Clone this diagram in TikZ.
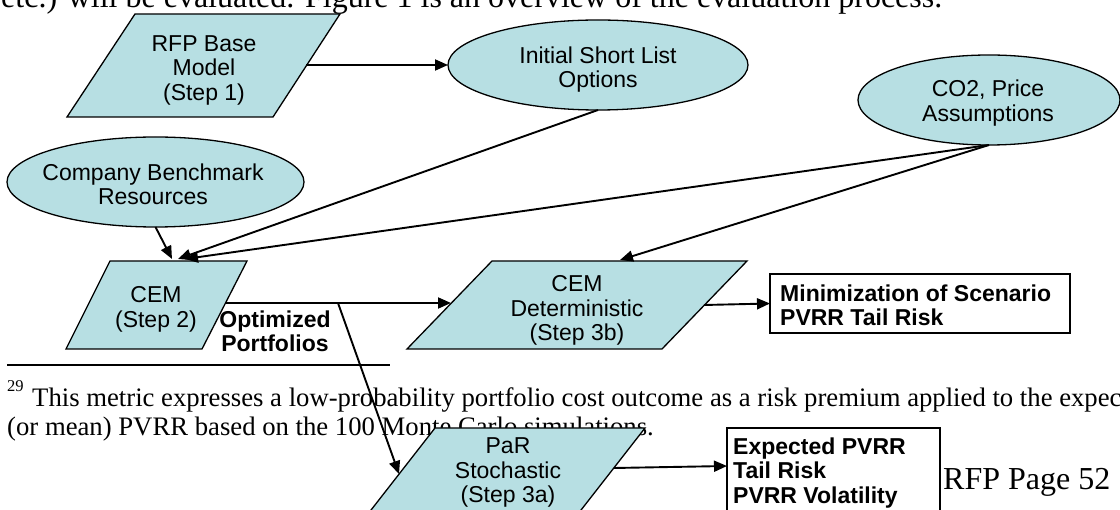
\documentclass[tikz,border=0pt]{standalone}
\usepackage{fontspec}
\setmainfont{Liberation Serif}
\newfontfamily\arialf{Liberation Sans}
\usetikzlibrary{arrows.meta,shapes.geometric}
\definecolor{shapefill}{RGB}{183,223,227}
\tikzset{
  shapeline/.style={draw=black, line width=1.3pt, fill=shapefill, line join=miter},
  conn/.style={draw=black, line width=1.9pt, -{Triangle[length=13pt,width=11pt]}},
  lbl/.style={font=\arialf\fontsize{23}{24.5}\selectfont, align=center, inner sep=0pt},
  blbl/.style={font=\arialf\bfseries\fontsize{23}{24.5}\selectfont, inner sep=0pt},
  ell/.style={ellipse, shapeline, inner sep=0pt, outer sep=0pt},
  resbox/.style={draw=black, line width=1.4pt, fill=white, inner sep=0pt, outer sep=0pt},
  bodytxt/.style={font=\fontsize{32}{36}\selectfont, inner sep=0pt, anchor=base west},
  foottxt/.style={font=\fontsize{26.7}{29}\selectfont, inner sep=0pt, anchor=base west},
  marktxt/.style={font=\fontsize{16.5}{18}\selectfont, inner sep=0pt, anchor=base west},
  pagetxt/.style={font=\fontsize{32}{36}\selectfont, inner sep=0pt, anchor=base west},
}
\begin{document}
\begin{tikzpicture}[x=1pt,y=-1pt]
\useasboundingbox (0,0) rectangle (1120,510);
\clip (0,0) rectangle (1120,510);
\fill[white] (0,0) rectangle (1120,510);

% ---- page text behind the figure ----
\node[bodytxt] (bodyline) at (1,8) {etc.) will be evaluated. Figure 1 is an overview of the evaluation process.};
\draw[line width=1.8pt] (7,365) -- (390,365);
\node[marktxt] (fnmark) at (7,392) {29};
\node[foottxt] (fnone) at (32,407) {This metric expresses a low-probability portfolio cost outcome as a risk premium applied to the expected};
\node[foottxt] (fntwo) at (7,436) {(or mean) PVRR based on the 100 Monte Carlo simulations.};
\node[pagetxt] (pagenum) at (943,490) {RFP Page 52};

% ---- shapes ----
\draw[shapeline] (135,14) -- (340,14) -- (273,117) -- (67,117) -- cycle;
\node[lbl] (rfp) at (204,70) {RFP Base\\Model\\(Step 1)};
\coordinate (rfpE) at (306,65);

\node[ell, minimum width=300pt, minimum height=90pt] (init) at (598,65) {};
\node[lbl] (inittxt) at (598,69.5) {Initial Short List\\Options};

\node[ell, minimum width=262pt, minimum height=90pt] (co2) at (989,100) {};
\node[lbl] (co2txt) at (988,103) {CO2, Price\\Assumptions};

\node[ell, minimum width=297pt, minimum height=90pt] (comp) at (155.5,182) {};
\node[lbl] (comptxt) at (153,184.5) {Company Benchmark\\Resources};

\draw[shapeline] (110,261) -- (247,261) -- (202,349) -- (66,349) -- cycle;
\node[lbl] (cem) at (156,309.5) {CEM\\(Step 2)};
\coordinate (cemInA) at (172,259);
\coordinate (cemInB) at (178,259);
\coordinate (cemInC) at (185,259);
\coordinate (cemE) at (226,303);
\coordinate (branch) at (338,303);

\node[blbl, align=center] (optport) at (275,331.5) {Optimized\\Portfolios};

\draw[shapeline] (492,261) -- (747,261) -- (662,349) -- (407,349) -- cycle;
\node[lbl] (det) at (577,310.5) {CEM\\Deterministic\\(Step 3b)};
\coordinate (detIn) at (620,260);
\coordinate (detW) at (451,303);
\coordinate (detE) at (704,305);

\draw[shapeline] (435,428) -- (645,428) -- (579.5,512) -- (369.5,512) -- cycle;
\node[lbl] (par) at (508,472.5) {PaR\\Stochastic\\(Step 3a)};
\coordinate (parW) at (399,474);
\coordinate (parE) at (614,468);

\node[resbox, minimum width=300pt, minimum height=59pt] (mini) at (920,303.5) {};
\node[blbl, align=left, anchor=west] (minitxt) at (780,305.5) {Minimization of Scenario\\PVRR Tail Risk};

\node[resbox, minimum width=213pt, minimum height=84pt] (expd) at (833.5,470) {};
\node[blbl, align=left, anchor=west] (expdtxt) at (733,473) {Expected PVRR\\Tail Risk\\PVRR Volatility};
\coordinate (expdIn) at (727,466);

% ---- connectors ----
\draw[conn] (rfpE) -- (init.west);
\draw[conn] (comp.south) -- (cemInA);
\draw[conn] (init.south) -- (cemInB);
\draw[conn] (co2.south) -- (cemInC);
\draw[conn] (co2.south) -- (detIn);
\draw[conn] (cemE) -- (detW);
\draw[conn] (branch) -- (parW);
\draw[conn] (detE) -- (mini.west);
\draw[conn] (parE) -- (expdIn);
\end{tikzpicture}
\end{document}
